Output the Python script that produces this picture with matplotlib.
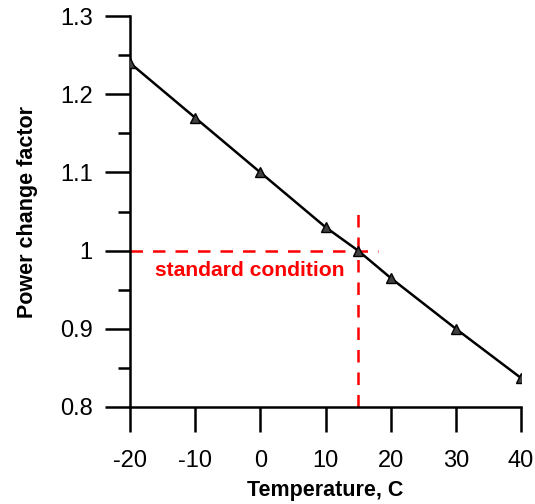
import matplotlib
matplotlib.use('Agg')
import matplotlib.pyplot as plt
from matplotlib.ticker import MultipleLocator

# dane z wykresu
temperatura = [-20, -10, 0, 10, 15, 20, 30, 40]
wspolczynnik = [1.24, 1.17, 1.10, 1.03, 1.00, 0.965, 0.90, 0.837]

x_ticks = [-20, -10, 0, 10, 20, 30, 40]
y_ticks = [0.8, 0.9, 1.0, 1.1, 1.2, 1.3]
y_labels = ['0.8', '0.9', '1', '1.1', '1.2', '1.3']

t_std, p_std = 15, 1.0

plt.rcParams['font.family'] = ['Liberation Sans', 'DejaVu Sans']
plt.rcParams['axes.unicode_minus'] = False

fig = plt.figure(figsize=(5.35, 5.04), dpi=100)
ax = fig.add_axes([0.243, 0.1925, 0.731, 0.7755])

ax.plot(temperatura, wspolczynnik, color='k', lw=1.8, marker='^',
        markersize=7, markerfacecolor='#404040', markeredgecolor='k', zorder=3)

# linie warunku standardowego
ax.plot([-20, 18], [p_std, p_std], color='red', lw=1.8, ls=(0, (5, 4)), zorder=2)
ax.plot([t_std, t_std], [0.8, 1.058], color='red', lw=1.8, ls=(0, (5, 4)), zorder=2)
ax.text(-1.6, 0.974, 'standard condition', color='red', fontsize=15.2,
        fontweight='bold', ha='center', va='center')

ax.set_xlim(-20, 40)
ax.set_ylim(0.8, 1.3)
ax.set_xticks(x_ticks)
ax.set_yticks(y_ticks)
ax.set_yticklabels(y_labels)
ax.yaxis.set_minor_locator(MultipleLocator(0.05))

for s in ['top', 'right']:
    ax.spines[s].set_visible(False)
for s in ['left', 'bottom']:
    ax.spines[s].set_linewidth(1.8)

ax.tick_params(which='major', direction='out', length=18, width=1.8,
               labelsize=17, pad=9)
ax.tick_params(axis='x', which='major', pad=13)
ax.tick_params(which='minor', direction='out', length=9, width=1.8)

ax.set_xlabel('Temperature, C', fontsize=15.5, fontweight='bold', labelpad=6)
ax.set_ylabel('Power change factor', fontsize=15.5, fontweight='bold', labelpad=16)

plt.savefig('out.png', dpi=100)
